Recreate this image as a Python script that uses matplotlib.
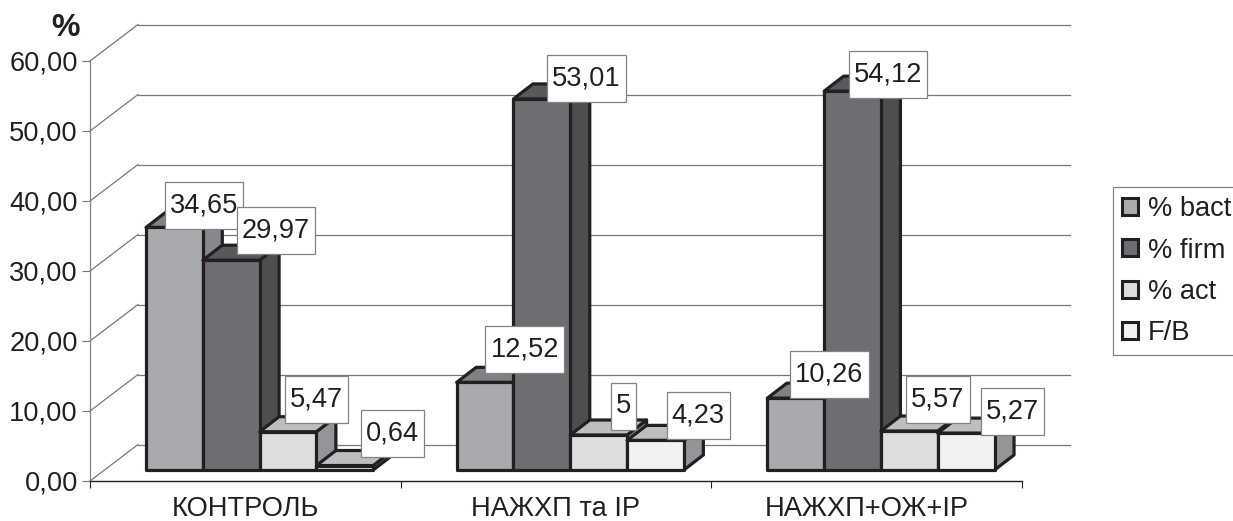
import matplotlib
matplotlib.use("Agg")
import matplotlib.pyplot as plt
from matplotlib.patches import Patch, Polygon
from matplotlib.path import Path

plt.rcParams["font.family"] = ["Liberation Sans", "DejaVu Sans"]

# Chart data
categories = ["КОНТРОЛЬ", "НАЖХП та ІР", "НАЖХП+ОЖ+ІР"]
series_names = ["% bact", "% firm", "% act", "F/B"]
bact = [34.65, 12.52, 10.26]
firm = [29.97, 53.01, 54.12]
act = [5.47, 5.00, 5.57]
fb = [0.64, 4.23, 5.27]
label_text = [
    ["34,65", "12,52", "10,26"],
    ["29,97", "53,01", "54,12"],
    ["5,47", "5", "5,57"],
    ["0,64", "4,23", "5,27"],
]
y_ticks = [0, 10, 20, 30, 40, 50, 60]
y_tick_labels = ["0,00", "10,00", "20,00", "30,00", "40,00", "50,00", "60,00"]

# Styling: front, top and side shades for each series
front_colors = ["#A9AAAD", "#6D6E71", "#DCDDDE", "#F1F2F2"]
top_colors = ["#808184", "#58595B", "#BCBEC0", "#BCBEC0"]
side_colors = ["#87888B", "#4D4E50", "#939598", "#939598"]
EDGE = "#231F20"
GRID = "#77787B"
TEXT = "#231F20"

# Label box centre relative to the bar's front top-left corner, in pixels
label_offsets = [
    [(58, 22), (68, 33), (62, 24)],
    [(73, 30), (73, 20), (64, 17)],
    [(57, 32), (53, 29), (57, 32)],
    [(76, 32), (71, 25), (75, 22)],
]

W, H = 1233, 521
fig = plt.figure(figsize=(W / 100, H / 100), dpi=100, facecolor="white")
ax = fig.add_axes([90 / W, (H - 481) / H, 932 / W, 420 / H])
ax.set_xlim(0, 3)
ax.set_ylim(0, 60)
ax.patch.set_visible(False)

# Data units per pixel
ux = 3 / 932
uy = 60 / 420

# Depth of the back wall and of the bars
wall_dx, wall_dy = 48 * ux, 36.5 * uy
bar_dx, bar_dy = 19.5 * ux, 15 * uy
bar_x0, bar_base = 56 * ux, 11 * uy
bar_w = 56.8 * ux

# Floor and wall grid
for v in y_ticks:
    ax.plot([0, wall_dx], [v, v + wall_dy], color=GRID, lw=0.9, clip_on=False, zorder=1)
    ax.plot([wall_dx, 980 * ux], [v + wall_dy, v + wall_dy], color=GRID, lw=0.9,
            clip_on=False, zorder=1)


def bar_face(points, color, z):
    ax.add_patch(Polygon(points, closed=True, facecolor=color, edgecolor=EDGE,
                         lw=2.3, joinstyle="round", clip_on=False, zorder=z))


all_series = [bact, firm, act, fb]
z = 3
for g in range(len(categories)):
    for s, values in enumerate(all_series):
        v = values[g]
        x0 = g + bar_x0 + s * bar_w
        x1 = x0 + bar_w
        y0, y1 = bar_base, bar_base + v
        bar_face([(x1, y0), (x1 + bar_dx, y0 + bar_dy),
                  (x1 + bar_dx, y1 + bar_dy), (x1, y1)], side_colors[s], z)
        bar_face([(x0, y1), (x0 + bar_dx, y1 + bar_dy),
                  (x1 + bar_dx, y1 + bar_dy), (x1, y1)], top_colors[s], z)
        bar_face([(x0, y0), (x1, y0), (x1, y1), (x0, y1)], front_colors[s], z)
        z += 1


def label_box(x0, y0, width, height, mutation_size):
    # Constant 47 px tall box around the text, 5 px of padding at the sides
    cy = y0 + height / 2
    left, right = x0 - 5, x0 + width + 5
    low, high = cy - 23.5, cy + 23.5
    return Path([(left, low), (right, low), (right, high), (left, high), (left, low)],
                closed=True)


for g in range(len(categories)):
    for s, values in enumerate(all_series):
        anchor = (g + bar_x0 + s * bar_w, bar_base + values[g])
        ax.annotate(label_text[s][g], xy=anchor, xytext=label_offsets[s][g],
                    textcoords="offset pixels", ha="center", va="center",
                    fontsize=19.6, color=TEXT, annotation_clip=False, zorder=50,
                    bbox=dict(boxstyle=label_box, facecolor="white",
                              edgecolor="#808285", lw=0.9))

# Axes
for side in ("top", "right"):
    ax.spines[side].set_visible(False)
ax.spines["left"].set_color("#808285")
ax.spines["left"].set_linewidth(0.9)
ax.spines["left"].set_zorder(2)
ax.spines["bottom"].set_color(EDGE)
ax.spines["bottom"].set_linewidth(1.0)

ax.set_yticks(y_ticks, y_tick_labels, fontsize=19.6, color=TEXT)
ax.tick_params(axis="y", length=5.8, width=0.8, color=GRID, pad=3)
ax.set_xticks([0, 1, 2, 3], ["", "", "", ""])
ax.tick_params(axis="x", which="major", length=5.2, width=0.8, color=EDGE)
ax.set_xticks([0.5, 1.5, 2.5], categories, minor=True, fontsize=19.6, color=TEXT)
ax.tick_params(axis="x", which="minor", length=0, pad=10.5)

fig.text(65 / W, 1 - 28 / H, "%", fontsize=23, fontweight="bold", color=TEXT,
         ha="center", va="center")

# Legend
handles = [Patch(facecolor=c, edgecolor=EDGE, lw=2.2) for c in front_colors]
legend = fig.legend(handles, series_names, loc="upper left",
                    bbox_to_anchor=(1113 / W, 1 - 187 / H), borderaxespad=0,
                    fontsize=19.6, handlelength=0.58, handleheight=0.58,
                    handletextpad=0.36, labelspacing=0.56, borderpad=0.34,
                    fancybox=False, framealpha=1, edgecolor="#808285",
                    labelcolor=TEXT)
legend.get_frame().set_linewidth(0.9)

fig.savefig("out.png", dpi=100, facecolor="white")
